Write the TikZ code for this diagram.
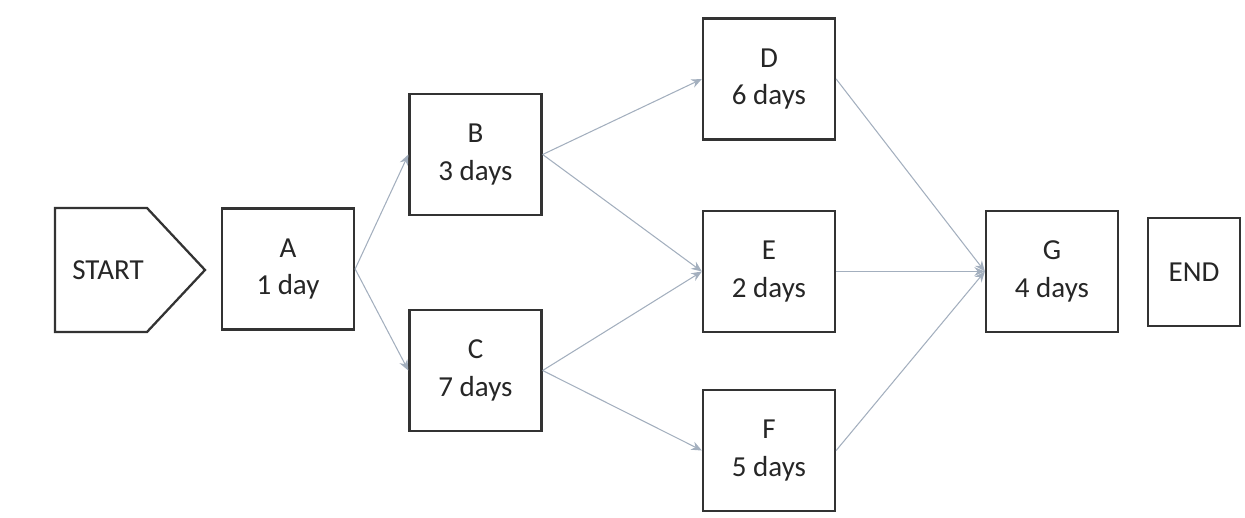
\documentclass[tikz,border=0pt]{standalone}
\usepackage{fontspec}
\setmainfont{Carlito}
\usetikzlibrary{arrows.meta}
\definecolor{boxline}{HTML}{333333}
\definecolor{linkline}{HTML}{A3AFBE}
\definecolor{labeltext}{HTML}{262626}
\newcommand{\taskbox}[4]{\node[task] (#1) at (#2,#3) {#4};}
\begin{document}
\begin{tikzpicture}
                [task/.style={rectangle,draw=boxline,line width=1.3pt,minimum width=2.64cm,minimum height=2.42cm,
                    align=center,text=labeltext,font=\fontsize{16.5}{21.5}\selectfont},
                link/.style={-{Stealth[length=6pt,width=5pt]},draw=linkline,line width=0.6pt},
                ]
                \useasboundingbox (0,0) rectangle (24.9,-10.36);
                % start flag
                \draw[draw=boxline,line width=1.3pt,line join=miter] (1.10,-4.16) -- (2.94,-4.16) -- (4.10,-5.40) -- (2.94,-6.64) -- (1.10,-6.64) -- cycle;
                \node[text=labeltext,font=\fontsize{16.5}{21.5}\selectfont] (start) at (2.16,-5.40) {START};
                \taskbox{A}{5.76}{-5.38}{A\\1 day}
                \taskbox{B}{9.51}{-3.09}{B\\3 days}
                \taskbox{C}{9.51}{-7.41}{C\\7 days}
                \taskbox{D}{15.38}{-1.58}{D\\6 days}
                \taskbox{E}{15.38}{-5.43}{E\\2 days}
                \taskbox{F}{15.38}{-9.01}{F\\5 days}
                \taskbox{G}{21.04}{-5.43}{G\\4 days}
                \node[task,minimum width=1.84cm,minimum height=2.16cm] (end) at (23.88,-5.44) {END};
                \foreach \a/\b in {A/B,A/C,B/D,B/E,C/E,C/F,D/G,E/G,F/G}
                    \draw[link] (\a.east) -- (\b.west);
            \end{tikzpicture}
\end{document}
